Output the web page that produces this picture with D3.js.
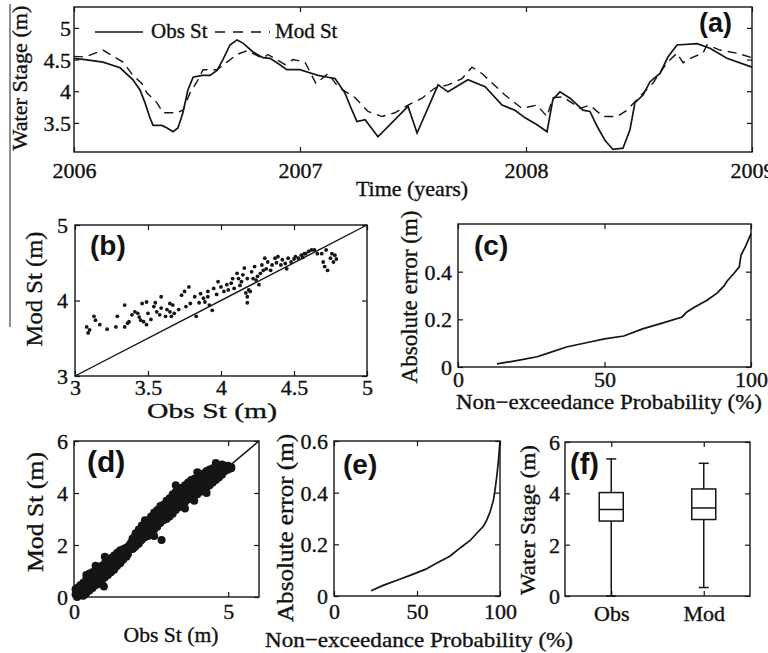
<!DOCTYPE html>
<html><head><meta charset="utf-8">
<script src="https://cdn.jsdelivr.net/npm/d3@7"></script>
<style>
body{margin:0;background:#fff;}
svg{display:block;}
text{font-family:"Liberation Serif","Times New Roman",serif;fill:#111;stroke:#111;stroke-width:0.35px;}
text.lab{font-family:"Liberation Sans",Arial,sans-serif;font-weight:bold;stroke:none;}
</style></head><body>
<svg id="c" width="768" height="653"></svg>
<script>
// ---------- DATA ----------
// (a) time series [decimal year, stage m]
const obsSeries = [[2006.000,4.52],[2006.049,4.50],[2006.128,4.46],[2006.204,4.37],[2006.261,4.18],[2006.292,4.02],[2006.314,3.82],[2006.336,3.58],[2006.350,3.46],[2006.389,3.46],[2006.412,3.42],[2006.438,3.36],[2006.460,3.42],[2006.482,3.66],[2006.504,4.02],[2006.527,4.22],[2006.566,4.25],[2006.602,4.25],[2006.633,4.33],[2006.659,4.50],[2006.690,4.73],[2006.721,4.81],[2006.748,4.76],[2006.792,4.62],[2006.836,4.53],[2006.867,4.52],[2006.898,4.45],[2006.942,4.34],[2007.000,4.34],[2007.035,4.30],[2007.080,4.25],[2007.124,4.22],[2007.155,4.20],[2007.199,3.97],[2007.230,3.70],[2007.252,3.52],[2007.288,3.55],[2007.345,3.28],[2007.478,3.76],[2007.518,3.34],[2007.611,4.10],[2007.655,3.99],[2007.743,4.18],[2007.819,4.07],[2007.894,3.78],[2007.951,3.70],[2007.996,3.58],[2008.049,3.47],[2008.093,3.36],[2008.119,3.87],[2008.150,3.99],[2008.195,3.89],[2008.252,3.70],[2008.283,3.68],[2008.314,3.45],[2008.350,3.22],[2008.385,3.08],[2008.429,3.10],[2008.460,3.39],[2008.482,3.82],[2008.518,3.94],[2008.549,4.15],[2008.593,4.28],[2008.628,4.54],[2008.668,4.73],[2008.757,4.75],[2008.814,4.68],[2008.889,4.52],[2009.000,4.38]];
const modSeries = [[2006.000,4.55],[2006.049,4.54],[2006.128,4.65],[2006.217,4.46],[2006.261,4.25],[2006.301,4.12],[2006.323,3.97],[2006.367,3.82],[2006.394,3.66],[2006.456,3.66],[2006.482,3.70],[2006.513,3.97],[2006.544,4.15],[2006.571,4.34],[2006.633,4.34],[2006.677,4.46],[2006.721,4.58],[2006.765,4.64],[2006.836,4.52],[2006.858,4.58],[2006.934,4.42],[2006.969,4.50],[2007.022,4.46],[2007.071,4.12],[2007.124,4.28],[2007.168,4.07],[2007.243,3.90],[2007.301,3.68],[2007.363,3.60],[2007.420,3.66],[2007.478,3.78],[2007.540,3.89],[2007.597,4.05],[2007.655,4.10],[2007.717,4.20],[2007.761,4.38],[2007.805,4.28],[2007.850,4.13],[2007.907,3.94],[2007.982,3.73],[2008.049,3.78],[2008.093,3.60],[2008.119,3.90],[2008.164,3.91],[2008.239,3.73],[2008.283,3.78],[2008.341,3.60],[2008.403,3.60],[2008.447,3.70],[2008.491,3.87],[2008.562,4.13],[2008.624,4.45],[2008.668,4.60],[2008.695,4.45],[2008.739,4.54],[2008.783,4.60],[2008.801,4.73],[2008.858,4.65],[2008.934,4.60],[2009.000,4.53]];
const yearTicks = [2006, 2007, 2008, 2009];
const stageTicksA = [3.5, 4, 4.5, 5];
const legendNames = ["Obs St", "Mod St"];

// (b) scatter [obs, mod]
const scatterB = [[3.08,3.65],[3.10,3.61],[3.13,3.79],[3.14,3.74],[3.17,3.68],[3.29,3.79],[3.28,3.65],[3.34,3.94],[3.34,3.65],[3.37,3.72],[3.39,3.81],[3.41,3.85],[3.43,3.83],[3.45,3.74],[3.47,3.72],[3.49,3.68],[3.46,3.96],[3.49,3.98],[3.54,3.92],[3.56,3.85],[3.58,3.81],[3.59,3.90],[3.62,3.79],[3.59,4.05],[3.65,3.96],[3.67,3.94],[3.68,3.83],[3.66,3.79],[3.65,3.85],[3.73,4.07],[3.75,4.12],[3.78,4.18],[3.76,3.92],[3.79,3.96],[3.83,3.79],[3.82,4.05],[3.86,4.09],[3.88,4.03],[3.89,3.98],[3.91,4.05],[3.92,3.94],[3.94,3.87],[3.91,4.12],[3.95,4.16],[3.98,4.25],[4.00,4.18],[4.02,4.12],[4.04,4.21],[4.05,4.14],[4.07,4.23],[4.09,4.16],[4.11,4.36],[4.12,4.29],[4.14,4.25],[4.15,4.34],[4.16,4.43],[4.18,4.29],[4.19,4.14],[4.18,4.05],[4.21,4.38],[4.22,4.29],[4.23,4.45],[4.24,4.27],[4.26,4.21],[4.27,4.36],[4.28,4.47],[4.29,4.40],[4.30,4.56],[4.32,4.51],[4.35,4.47],[4.37,4.56],[4.39,4.58],[4.42,4.54],[4.44,4.49],[4.46,4.56],[4.48,4.51],[4.51,4.58],[4.53,4.56],[4.55,4.60],[4.58,4.62],[4.60,4.65],[4.62,4.67],[4.64,4.67],[4.69,4.62],[4.70,4.51],[4.71,4.45],[4.72,4.67],[4.75,4.56],[4.77,4.51],[4.78,4.60],[3.36,3.70],[3.44,3.78],[3.52,3.75],[3.63,3.88],[3.71,3.88],[3.85,3.97],[3.97,4.08],[4.08,4.29],[4.13,4.20],[4.17,4.10],[4.20,4.12],[4.25,4.32],[4.31,4.42],[4.34,4.40],[4.38,4.50],[4.41,4.47],[4.45,4.42],[4.50,4.55],[4.56,4.57],[4.57,4.62],[4.66,4.62],[4.73,4.40],[4.76,4.62],[4.79,4.55],[3.09,3.57],[3.22,3.62],[3.50,3.83],[3.55,3.97],[4.18,3.97]];
const ticksBx = [3, 3.5, 4, 4.5, 5];
const ticksBy = [3, 4, 5];

// (c) exceedance curve [probability %, abs error m]
const curveC = [[13.3,0.013],[20,0.027],[27,0.043],[30,0.055],[37,0.084],[45,0.105],[50,0.118],[56.6,0.13],[63,0.16],[70,0.185],[76.5,0.21],[78,0.23],[80.5,0.25],[85,0.28],[88.4,0.31],[90.8,0.34],[91.8,0.36],[94,0.39],[96,0.42],[96.6,0.47],[98.3,0.51],[100,0.56]];
const ticksProb = [0, 50, 100];
const ticksErrC = [0, 0.2, 0.4];

// (d) scatter [obs, mod]
const scatterD = [[0.05,0.10],[0.05,0.30],[0.1,0.0],[0.1,0.35],[0.1,0.15],[0.2,0.45],[0.2,0.1],[0.2,0.25],[0.3,0.55],[0.3,0.2],[0.3,0.05],[0.4,0.7],[0.4,0.35],[0.4,0.15],[0.5,0.9],[0.5,0.5],[0.5,0.25],[0.6,0.95],[0.6,0.6],[0.6,0.35],[0.7,1.05],[0.7,0.75],[0.7,0.45],[0.8,1.15],[0.8,0.8],[0.8,0.5],[0.9,1.2],[0.9,0.95],[0.9,0.6],[0.97,0.4],[1.0,1.3],[1.0,1.0],[1.0,0.75],[1.1,1.45],[1.1,1.1],[1.1,0.85],[1.2,1.5],[1.2,1.25],[1.2,0.95],[1.3,1.6],[1.3,1.3],[1.3,1.05],[1.4,1.7],[1.4,1.45],[1.4,1.2],[1.5,1.8],[1.5,1.55],[1.5,1.3],[1.6,1.85],[1.6,1.6],[1.6,1.45],[1.7,1.9],[1.7,1.75],[1.8,2.0],[1.8,1.85],[1.9,2.25],[1.9,2.05],[1.9,1.85],[2.0,2.45],[2.0,2.2],[2.0,1.95],[2.1,2.6],[2.1,2.3],[2.1,2.05],[2.2,2.75],[2.2,2.45],[2.2,2.2],[2.3,2.8],[2.3,2.55],[2.3,2.3],[2.4,2.95],[2.4,2.65],[2.4,2.35],[2.5,3.1],[2.5,2.8],[2.5,2.5],[2.6,3.25],[2.6,2.9],[2.6,2.6],[2.7,3.35],[2.7,3.05],[2.7,2.7],[2.8,3.5],[2.8,3.15],[2.8,2.85],[2.84,2.19],[2.9,3.55],[2.9,3.25],[2.9,2.95],[3.0,3.7],[3.0,3.35],[3.0,3.0],[3.1,3.8],[3.1,3.5],[3.1,3.1],[3.2,3.95],[3.2,3.6],[3.2,3.2],[3.3,4.05],[3.3,3.7],[3.3,3.35],[3.4,4.1],[3.4,3.8],[3.4,3.45],[3.5,4.2],[3.5,3.9],[3.5,3.55],[3.6,4.3],[3.6,4.0],[3.6,3.65],[3.7,4.4],[3.7,4.05],[3.7,3.75],[3.8,4.5],[3.8,4.15],[3.8,3.8],[3.9,4.55],[3.9,4.25],[3.9,3.9],[4.0,4.6],[4.0,4.3],[4.0,3.95],[4.1,4.7],[4.1,4.4],[4.1,4.05],[4.2,4.75],[4.2,4.5],[4.2,4.1],[4.3,4.85],[4.3,4.55],[4.3,4.2],[4.4,4.9],[4.4,4.6],[4.4,4.3],[4.5,4.95],[4.5,4.7],[4.5,4.4],[4.6,5.0],[4.6,4.75],[4.6,4.5],[4.7,5.05],[4.7,4.8],[4.7,4.6],[4.8,5.1],[4.8,4.85],[4.8,4.7],[4.9,5.05],[4.9,4.85],[5.0,5.05],[5.0,4.9],[5.1,5.0],[5.1,4.95],
[0.15,0.2],[0.25,0.35],[0.35,0.4],[0.45,0.55],[0.55,0.7],[0.65,0.8],[0.75,0.9],[0.85,1.0],[0.95,1.1],[1.05,1.15],[1.15,1.3],[1.25,1.4],[1.35,1.5],[1.45,1.6],[1.55,1.7],[1.65,1.8],[1.75,1.9],[1.85,2.1],[1.95,2.3],[2.05,2.4],[2.15,2.5],[2.25,2.6],[2.35,2.75],[2.45,2.9],[2.55,3.0],[2.65,3.1],[2.75,3.25],[2.85,3.35],[2.95,3.45],[3.05,3.55],[3.15,3.7],[3.25,3.8],[3.35,3.9],[3.45,4.0],[3.55,4.1],[3.65,4.2],[3.75,4.3],[3.85,4.4],[3.95,4.45],[4.05,4.5],[4.15,4.6],[4.25,4.7],[4.35,4.75],[4.45,4.8],[4.55,4.85],[4.65,4.9],[4.75,4.95],[4.85,5.0],
[0.15,0.05],[0.35,0.1],[0.55,0.35],[0.75,0.55],[0.95,0.8],[1.15,1.0],[1.35,1.15],[1.55,1.4],[1.75,1.65],[1.95,1.9],[2.15,2.15],[2.35,2.4],[2.55,2.65],[2.75,2.9],[2.95,3.15],[3.15,3.3],[3.35,3.55],[3.55,3.75],[3.75,3.95],[3.95,4.1],[4.15,4.25],[4.35,4.4],[4.55,4.6],[4.75,4.75],[4.95,4.95],
[3.3,4.3],[2.6,2.35],[4.3,4.0],[3.6,3.4],[1.0,1.55],[0.4,0.85],[1.7,1.55],[4.0,4.8],[3.9,3.7],[2.3,2.95],[0.7,1.2],[4.6,5.15]];
const ticksDx = [0, 5];
const ticksDy = [0, 2, 4, 6];

// (e) exceedance curve [probability %, abs error m]
const curveE = [[22.3,0.02],[30,0.042],[40,0.066],[45.8,0.08],[55,0.103],[62,0.128],[70,0.155],[76,0.186],[82,0.215],[86,0.243],[90,0.27],[92,0.294],[94,0.325],[96,0.37],[97,0.41],[98,0.46],[99,0.52],[99.5,0.56],[100,0.6]];
const ticksErrE = [0, 0.2, 0.4, 0.6];

// (f) box plot
const boxCats = ["Obs", "Mod"];
const boxMin = [0, 0.33];
const boxQ1 = [2.92, 2.98];
const boxMed = [3.37, 3.43];
const boxQ3 = [4.03, 4.17];
const boxMax = [5.34, 5.17];
const ticksFy = [0, 2, 4, 6];

// ---------- DRAWING ----------
const svg = d3.select("#c");
const INK = "#151515";
const SERIF = '"Liberation Serif","Times New Roman",serif';

function axes(x, y, o) {
  const [L, R] = x.range(), [B, T] = y.range();
  const fmtX = o.xf || (d => String(d));
  const fmtY = o.yf || (d => String(d));
  const gb = svg.append("g").attr("transform", `translate(0,${B})`)
    .call(d3.axisBottom(x).tickValues(o.xt).tickSizeInner(-5).tickSizeOuter(0).tickFormat(fmtX));
  const gt = svg.append("g").attr("transform", `translate(0,${T})`)
    .call(d3.axisTop(x).tickValues(o.xt).tickSizeInner(-5).tickSizeOuter(0).tickFormat(""));
  const gl = svg.append("g").attr("transform", `translate(${L},0)`)
    .call(d3.axisLeft(y).tickValues(o.yt).tickSizeInner(-5).tickSizeOuter(0).tickFormat(fmtY));
  const gr = svg.append("g").attr("transform", `translate(${R},0)`)
    .call(d3.axisRight(y).tickValues(o.yt).tickSizeInner(-5).tickSizeOuter(0).tickFormat(""));
  [gb, gt, gl, gr].forEach(g => {
    g.select(".domain").remove();
    g.attr("font-family", SERIF).attr("font-size", o.fs).attr("color", INK);
    g.selectAll(".tick line").attr("stroke-width", 1.2);
    g.selectAll(".tick text").style("font-family", SERIF).style("font-size", o.fs + "px");
  });
  gb.selectAll(".tick text").attr("y", o.xoff).attr("dy", 0);
  gl.selectAll(".tick text").attr("x", -o.yoff).attr("dy", "0.34em");
  svg.append("rect").attr("x", L).attr("y", T).attr("width", R - L).attr("height", B - T)
    .attr("fill", "none").attr("stroke", INK).attr("stroke-width", 1.4);
}

function title(txt, x, y, fs, rot, len) {
  const t = svg.append("text").attr("text-anchor", "middle").attr("font-size", fs).text(txt);
  if (rot) t.attr("transform", `translate(${x},${y}) rotate(-90)`);
  else t.attr("x", x).attr("y", y);
  if (len) t.attr("textLength", len).attr("lengthAdjust", "spacingAndGlyphs");
}
function plabel(txt, x, y, fs) {
  svg.append("text").attr("class", "lab").attr("x", x).attr("y", y).attr("font-size", fs).text(txt);
}

// artifact vertical rule at far left
svg.append("line").attr("x1", 10).attr("x2", 10).attr("y1", 4).attr("y2", 327)
  .attr("stroke", "#555").attr("stroke-width", 1.3);

// ---- (a)
{
  const x = d3.scaleLinear().domain([2006, 2009]).range([74, 752]);
  const y = d3.scaleLinear().domain([3.04, 5.33]).range([152, 7]);
  const line = d3.line().x(d => x(d[0])).y(d => y(d[1]));
  svg.append("path").datum(obsSeries).attr("d", line).attr("fill", "none").attr("stroke", INK).attr("stroke-width", 1.7);
  svg.append("path").datum(modSeries).attr("d", line).attr("fill", "none").attr("stroke", INK).attr("stroke-width", 1.4).attr("stroke-dasharray", "9,6");
  axes(x, y, {xt: yearTicks, yt: stageTicksA, xf: d3.format("d"), fs: 22, xoff: 26, yoff: 3});
  // legend
  svg.append("line").attr("x1", 95).attr("x2", 143).attr("y1", 32).attr("y2", 32).attr("stroke", INK).attr("stroke-width", 1.6);
  svg.append("text").attr("x", 151).attr("y", 38).attr("font-size", 21).text(legendNames[0]);
  svg.append("line").attr("x1", 215).attr("x2", 270).attr("y1", 32).attr("y2", 32).attr("stroke", INK).attr("stroke-width", 1.4).attr("stroke-dasharray", "10,8");
  svg.append("text").attr("x", 275).attr("y", 38).attr("font-size", 21).text(legendNames[1]);
  title("Time (years)", 412, 196, 22);
  title("Water Stage (m)", 27, 78, 22, true, 145);
  plabel("(a)", 699, 32, 27);
}

// ---- (b)
{
  const x = d3.scaleLinear().domain([3, 5]).range([75, 367]);
  const y = d3.scaleLinear().domain([3, 5]).range([376, 225]);
  svg.append("line").attr("x1", x(3)).attr("y1", y(3)).attr("x2", x(5)).attr("y2", y(5)).attr("stroke", INK).attr("stroke-width", 1.4);
  svg.append("g").selectAll("circle").data(scatterB).join("circle")
    .attr("cx", d => x(d[0])).attr("cy", d => y(d[1])).attr("r", 1.9).attr("fill", INK);
  axes(x, y, {xt: ticksBx, yt: ticksBy, fs: 22, xoff: 19, yoff: 7});
  title("Obs St (m)", 212, 418, 22, false, 130);
  title("Mod St (m)", 42, 289, 24, true, 115);
  plabel("(b)", 90, 255, 28);
}

// ---- (c)
{
  const x = d3.scaleLinear().domain([0, 100]).range([458, 751]);
  const y = d3.scaleLinear().domain([0, 0.6]).range([367, 224]);
  const line = d3.line().x(d => x(d[0])).y(d => y(d[1]));
  svg.append("path").datum(curveC).attr("d", line).attr("fill", "none").attr("stroke", INK).attr("stroke-width", 1.7);
  axes(x, y, {xt: ticksProb, yt: ticksErrC, fs: 22, xoff: 20, yoff: 6});
  title("Non\u2212exceedance Probability (%)", 609, 409, 21, false, 306);
  title("Absolute error (m)", 417, 297, 24, true, 173);
  plabel("(c)", 474, 255, 28);
}

// ---- (d)
{
  const x = d3.scaleLinear().domain([0, 6]).range([74, 259]);
  const y = d3.scaleLinear().domain([0, 6]).range([597, 441]);
  svg.append("line").attr("x1", x(0)).attr("y1", y(0)).attr("x2", x(6)).attr("y2", y(6)).attr("stroke", INK).attr("stroke-width", 1.4);
  svg.append("g").selectAll("circle").data(scatterD).join("circle")
    .attr("cx", d => x(d[0])).attr("cy", d => y(d[1])).attr("r", 4).attr("fill", INK);
  axes(x, y, {xt: ticksDx, yt: ticksDy, fs: 22, xoff: 22, yoff: 6});
  title("Obs St (m)", 171, 642, 22, false, 95);
  title("Mod St (m)", 43, 512, 24, true, 120);
  plabel("(d)", 87, 472, 30);
}

// ---- (e)
{
  const x = d3.scaleLinear().domain([0, 100]).range([334, 500]);
  const y = d3.scaleLinear().domain([0, 0.6]).range([596, 441]);
  const line = d3.line().x(d => x(d[0])).y(d => y(d[1]));
  svg.append("path").datum(curveE).attr("d", line).attr("fill", "none").attr("stroke", INK).attr("stroke-width", 1.7);
  axes(x, y, {xt: ticksProb, yt: ticksErrE, fs: 22, xoff: 23, yoff: 6});
  title("Non\u2212exceedance Probability (%)", 419, 647, 22, false, 308);
  title("Absolute error (m)", 293, 528, 24, true, 188);
  plabel("(e)", 343, 474, 28);
}

// ---- (f)
{
  const x = d3.scaleLinear().domain([0.5, 2.5]).range([565, 750]);
  const y = d3.scaleLinear().domain([0, 6]).range([596, 442]);
  const bw = 24, cw = 10;
  boxCats.forEach((c, i) => {
    const cx = x(i + 1);
    const g = svg.append("g").attr("stroke", INK).attr("stroke-width", 1.5).attr("fill", "none");
    g.append("line").attr("x1", cx).attr("x2", cx).attr("y1", y(boxMax[i])).attr("y2", y(boxQ3[i]));
    g.append("line").attr("x1", cx).attr("x2", cx).attr("y1", y(boxQ1[i])).attr("y2", y(boxMin[i]));
    g.append("line").attr("x1", cx - cw / 2).attr("x2", cx + cw / 2).attr("y1", y(boxMax[i])).attr("y2", y(boxMax[i]));
    g.append("line").attr("x1", cx - cw / 2).attr("x2", cx + cw / 2).attr("y1", y(boxMin[i])).attr("y2", y(boxMin[i]));
    g.append("rect").attr("x", cx - bw / 2).attr("width", bw).attr("y", y(boxQ3[i])).attr("height", y(boxQ1[i]) - y(boxQ3[i]));
    g.append("line").attr("x1", cx - bw / 2).attr("x2", cx + bw / 2).attr("y1", y(boxMed[i])).attr("y2", y(boxMed[i]));
  });
  axes(x, y, {xt: [1, 2], yt: ticksFy, xf: d => boxCats[d - 1], fs: 22, xoff: 25, yoff: 5});
  title("Water Stage (m)", 535, 520, 22, true, 150);
  plabel("(f)", 570, 474, 29);
}
</script>
</body></html>
